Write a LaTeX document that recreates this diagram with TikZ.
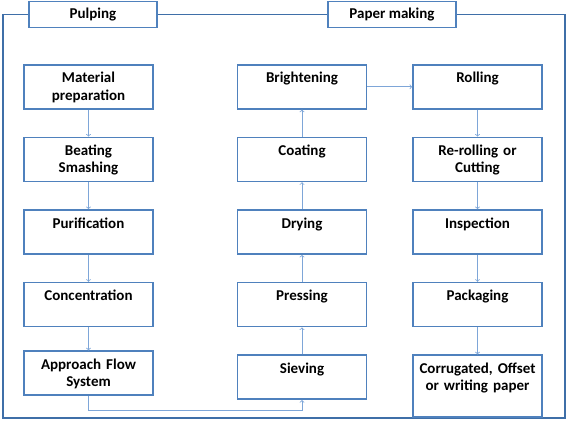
\documentclass[tikz,border=0pt]{standalone}
\usepackage{fontspec}
\setmainfont{Carlito}
\usetikzlibrary{positioning}

\definecolor{boxblue}{HTML}{4F81BD}
\definecolor{linkblue}{HTML}{7EA6D8}
\definecolor{frameblue}{HTML}{3F6FA8}

\begin{document}
\begin{tikzpicture}[x=1pt, y=-1pt,
		stage/.style={rectangle, draw=boxblue, line width=1.6pt, fill=white, inner xsep=2pt, inner ysep=0pt,
			text width=125pt, align=center, text height=18pt, text depth=26pt,
			font=\fontsize{15}{17.5}\selectfont\bfseries, anchor=north},
		tall/.style={text depth=44pt},
		head/.style={rectangle, draw=boxblue, line width=1.6pt, fill=white, minimum width=128pt,
			minimum height=26pt, inner sep=0pt, font=\fontsize{15}{17.5}\selectfont\bfseries},
		link/.style={draw=linkblue, line width=0.8pt, ->},
		frame/.style={draw=frameblue, line width=1.2pt},
		node distance=27pt
]

\useasboundingbox (0,0) rectangle (567,420);

% section headers and frame
\node [head] (pulping) at (93,14.5) {Pulping};
\node [head] (papermaking) at (392,14.5) {Paper making};
\coordinate (tl) at (3,14.5);
\coordinate (bl) at (3,418);
\coordinate (br) at (565,418);
\coordinate (tr) at (565,14.5);
\draw [frame] (pulping.west) -- (tl) -- (bl) -- (br) -- (tr) -- (papermaking.east);
\draw [frame] (pulping.east) -- (papermaking.west);

% pulping column
\node [stage] (material) at (88.5,64) {Material\\preparation};
\node [stage, below=of material] (beating) {Beating\\Smashing};
\node [stage, below=of beating] (purification) {Purification};
\node [stage, below=of purification] (concentration) {Concentration};
\node [stage, below=23pt of concentration] (approach) {Approach Flow\\System};

% paper making column
\node [stage] (brightening) at (302,64) {Brightening};
\node [stage, below=of brightening] (coating) {Coating};
\node [stage, below=of coating] (drying) {Drying};
\node [stage, below=of drying] (pressing) {Pressing};
\node [stage, below=of pressing] (sieving) {Sieving};

% finishing column
\node [stage] (rolling) at (477.5,64) {Rolling};
\node [stage, below=of rolling] (rerolling) {Re-rolling or\\Cutting};
\node [stage, below=of rerolling] (inspection) {Inspection};
\node [stage, below=of inspection] (packaging) {Packaging};
\node [stage, tall, below=of packaging] (paper) {Corrugated, Offset\\or writing paper};

% flow
\draw [link] (material.south) -- (beating.north);
\draw [link] (beating.south) -- (purification.north);
\draw [link] (purification.south) -- (concentration.north);
\draw [link] (concentration.south) -- (approach.north);
\coordinate (bend) at (88.5,410);
\draw [link] (approach.south) -- (bend) -| (sieving.south);
\draw [link] (sieving.north) -- (pressing.south);
\draw [link] (pressing.north) -- (drying.south);
\draw [link] (drying.north) -- (coating.south);
\draw [link] (coating.north) -- (brightening.south);
\draw [link] (brightening.east) -- (rolling.west);
\draw [link] (rolling.south) -- (rerolling.north);
\draw [link] (rerolling.south) -- (inspection.north);
\draw [link] (inspection.south) -- (packaging.north);
\draw [link] (packaging.south) -- (paper.north);

\end{tikzpicture}
\end{document}
